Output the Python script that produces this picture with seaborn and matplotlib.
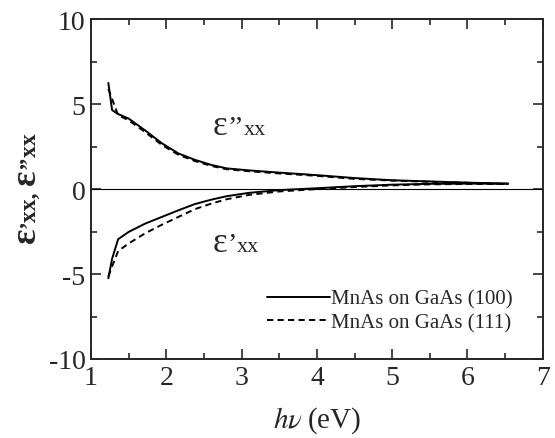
import matplotlib
matplotlib.use("Agg")
import matplotlib.pyplot as plt
import seaborn as sns
import pandas as pd

# Data
energy = [1.23, 1.28, 1.36, 1.50, 1.72, 1.94, 2.16, 2.38, 2.60, 2.80, 3.10, 3.50, 4.00, 4.50, 5.00, 5.50, 6.00, 6.54]
eps2_100 = [6.25, 4.65, 4.42, 4.15, 3.45, 2.70, 2.10, 1.72, 1.42, 1.22, 1.10, 0.97, 0.82, 0.65, 0.52, 0.45, 0.38, 0.32]
eps2_111 = [5.90, 5.30, 4.35, 4.05, 3.35, 2.60, 2.02, 1.65, 1.36, 1.17, 1.05, 0.92, 0.78, 0.60, 0.50, 0.43, 0.37, 0.30]
eps1_100 = [-5.25, -4.10, -2.95, -2.52, -2.03, -1.64, -1.25, -0.88, -0.62, -0.42, -0.22, -0.06, 0.05, 0.17, 0.26, 0.31, 0.32, 0.32]
eps1_111 = [-5.15, -4.55, -3.65, -3.20, -2.60, -2.10, -1.64, -1.18, -0.85, -0.60, -0.34, -0.14, 0.00, 0.12, 0.22, 0.28, 0.30, 0.30]
labels = ["MnAs on GaAs (100)", "MnAs on GaAs (111)"]
x_ticks = [1, 2, 3, 4, 5, 6, 7]
y_ticks = [-10, -5, 0, 5, 10]

sns.set_style("ticks")
plt.rcParams['font.family'] = ['Liberation Serif', 'DejaVu Serif']
plt.rcParams['mathtext.fontset'] = 'stix'
plt.rcParams['axes.unicode_minus'] = False
plt.rcParams['xtick.direction'] = 'in'
plt.rcParams['ytick.direction'] = 'in'

fig = plt.figure(figsize=(5.55, 4.39), dpi=100)
ax = fig.add_axes([0.164, 0.18, 0.814, 0.774])

df = pd.DataFrame({"E": energy, "e2a": eps2_100, "e2b": eps2_111,
                   "e1a": eps1_100, "e1b": eps1_111})

lw = 1.4
dash = (3.2, 2.2)
sns.lineplot(data=df, x="E", y="e2a", ax=ax, color="black", lw=lw, label=labels[0])
sns.lineplot(data=df, x="E", y="e2b", ax=ax, color="black", lw=lw, label=labels[1])
ax.lines[-1].set_dashes(dash)
sns.lineplot(data=df, x="E", y="e1a", ax=ax, color="black", lw=lw)
sns.lineplot(data=df, x="E", y="e1b", ax=ax, color="black", lw=lw)
ax.lines[-1].set_dashes(dash)

ax.axhline(0, color="black", lw=0.8)

ax.set_xlim(1, 7)
ax.set_ylim(-10, 10)
ax.set_xticks(x_ticks)
ax.set_yticks(y_ticks)
ax.set_xticks([1.5, 2.5, 3.5, 4.5, 5.5, 6.5], minor=True)
ax.set_yticks([-7.5, -2.5, 2.5, 7.5], minor=True)
ax.tick_params(which="both", top=True, right=True, direction="in", width=1.2)
ax.tick_params(which="major", length=7, labelsize=20, pad=4)
ax.tick_params(which="minor", length=4)
for s in ax.spines.values():
    s.set_linewidth(1.4)

ax.set_xlabel(r"$h\nu$" + "\u2009(eV)", fontsize=21, labelpad=11)
ax.set_ylabel("")

# Y label built from pieces (large epsilon, smaller trailing text)
big, small = 26, 17
y0 = fig.text(35 / 555, 1 - 243 / 439, "\u03b5", fontsize=big, fontweight="bold",
              rotation=90, rotation_mode="anchor", ha="left", va="baseline")
y1 = ax.annotate("\u2019xx,", xy=(35 / 555, 1), xycoords=("figure fraction", y0),
                 xytext=(0, 0), textcoords="offset points", fontsize=small, fontweight="bold",
                 rotation=90, rotation_mode="anchor", ha="left", va="baseline",
                 annotation_clip=False)
y2 = ax.annotate("\u03b5", xy=(35 / 555, 1), xycoords=("figure fraction", y1),
                 xytext=(0, 4), textcoords="offset points", fontsize=big, fontweight="bold",
                 rotation=90, rotation_mode="anchor", ha="left", va="baseline",
                 annotation_clip=False)
ax.annotate("\u2019\u2019xx", xy=(35 / 555, 1), xycoords=("figure fraction", y2),
            xytext=(0, 0), textcoords="offset points", fontsize=small, fontweight="bold",
            rotation=90, rotation_mode="anchor", ha="left", va="baseline",
            annotation_clip=False)

# Curve annotations
a1 = ax.text(2.62, 3.26, "\u03b5", fontsize=25, va="baseline", ha="left")
q1 = ax.annotate("\u2019\u2019", xy=(1, 3.26), xycoords=(a1, "data"), fontsize=20,
                 va="baseline", ha="left")
ax.annotate("xx", xy=(1, 3.26), xycoords=(q1, "data"), fontsize=16,
            va="baseline", ha="left")
a2 = ax.text(2.62, -3.62, "\u03b5", fontsize=25, va="baseline", ha="left")
q2 = ax.annotate("\u2019", xy=(1, -3.62), xycoords=(a2, "data"), fontsize=20,
                 va="baseline", ha="left")
ax.annotate("xx", xy=(1, -3.62), xycoords=(q2, "data"), fontsize=16,
            va="baseline", ha="left")

h = ax.get_legend_handles_labels()[0]
ax.legend(handles=h[:2], labels=labels, loc="upper left", bbox_to_anchor=(0.39, 0.205),
          frameon=False, fontsize=15, handlelength=3.0, handletextpad=0.05,
          labelspacing=0.2, borderpad=0, borderaxespad=0)

fig.savefig("out.png", dpi=100)
